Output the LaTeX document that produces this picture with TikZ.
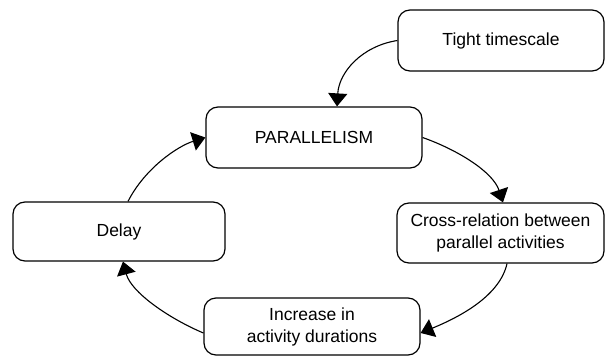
\documentclass[tikz,border=0pt]{standalone}
\usepackage{fontspec}
\setmainfont{Liberation Sans}
\usetikzlibrary{arrows.meta}
\begin{document}
\begin{tikzpicture}[x=1pt,y=-1pt,
  box/.style={draw, line width=1.2pt, rounded corners=12pt, inner sep=0pt,
    align=center, font=\fontsize{17.5}{22}\selectfont},
  conn/.style={line width=1.1pt, -{Triangle[length=13pt,width=19pt]}}]
\useasboundingbox (0,0) rectangle (605,356);
\node[box, minimum width=206pt, minimum height=61pt] (tight) at (501,40.5) {Tight timescale};
\node[box, minimum width=216pt, minimum height=61pt] (par) at (314,137.5) {PARALLELISM};
\node[box, minimum width=207pt, minimum height=60pt] (cross) at (500.5,233) {Cross-relation between\\parallel activities};
\node[box, minimum width=212pt, minimum height=59pt] (delay) at (119,231.5) {Delay};
\node[box, minimum width=216pt, minimum height=57pt] (inc) at (312,326.5) {Increase in\\activity durations};
\draw[conn] (tight.west) .. controls (362,46) and (339,72) .. ([xshift=23pt]par.north);
\draw[conn] (par.east) .. controls (458,150) and (493,172) .. ([xshift=2.5pt]cross.north);
\draw[conn] ([xshift=6.5pt]cross.south) .. controls (500,295) and (462,316) .. ([yshift=-6.5pt]inc.east);
\draw[conn] ([yshift=-6.5pt]inc.west) .. controls (168,318) and (131,292) .. ([xshift=4pt]delay.south);
\draw[conn] ([xshift=9pt]delay.north) .. controls (145,168) and (178,146) .. (par.west);
\end{tikzpicture}
\end{document}
